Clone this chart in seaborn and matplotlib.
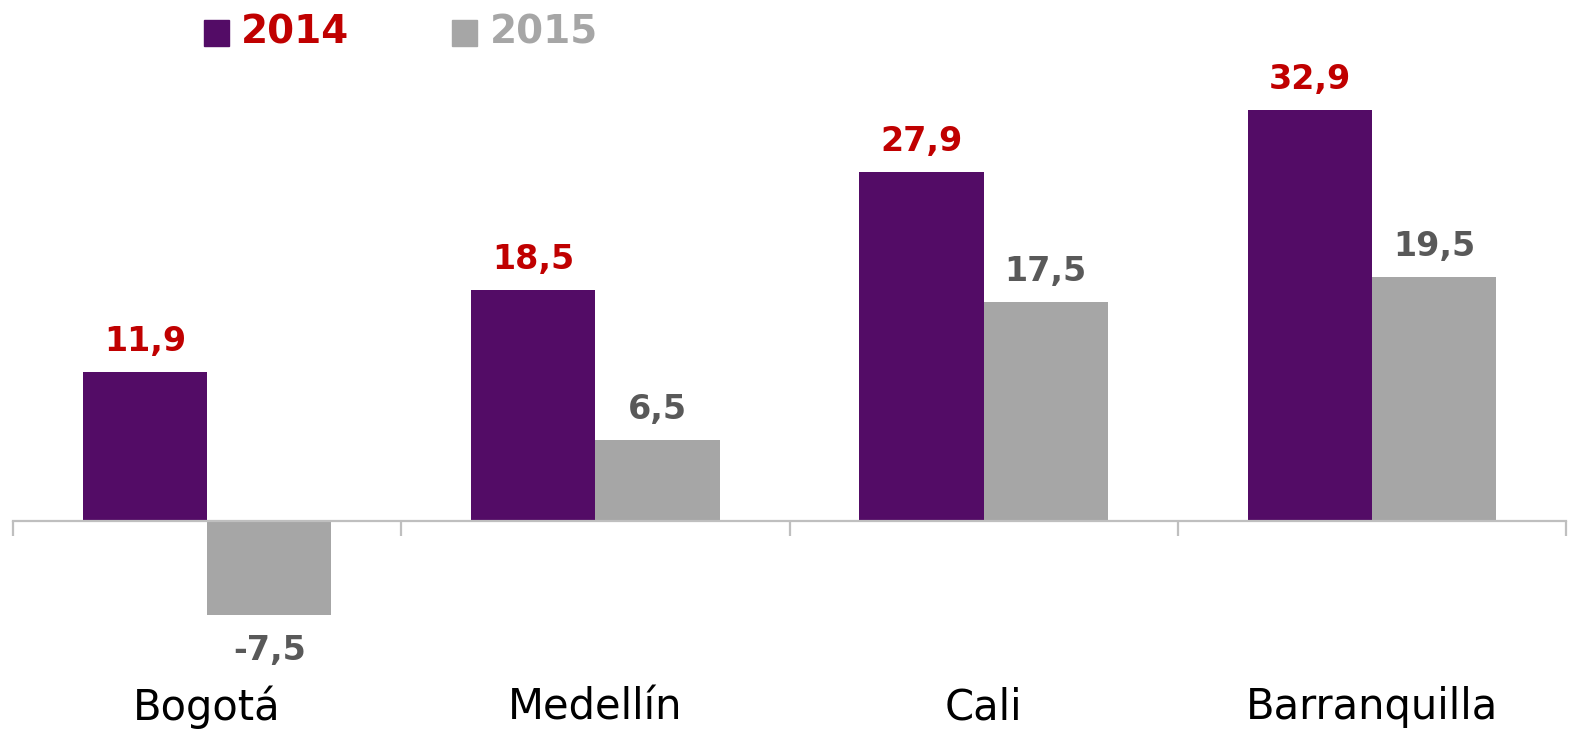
import matplotlib
matplotlib.use("Agg")
import numpy as np
import pandas as pd
import matplotlib.pyplot as plt
import seaborn as sns
from matplotlib.patches import Rectangle

# Data
cities = ['Bogotá', 'Medellín', 'Cali', 'Barranquilla']
years = ['2014', '2015']
values_2014 = [11.9, 18.5, 27.9, 32.9]
values_2015 = [-7.5, 6.5, 17.5, 19.5]

purple = '#530C66'
grey = '#A6A6A6'
red = '#C00000'
dark_grey = '#595959'

df = pd.DataFrame({
    'city': cities * 2,
    'year': [years[0]] * len(cities) + [years[1]] * len(cities),
    'value': values_2014 + values_2015,
})

sns.set_style('white')
plt.rcParams['font.family'] = ['DejaVu Sans']

fig = plt.figure(figsize=(15.74, 7.34), dpi=100)
ax = fig.add_axes([13 / 1574, 0, 1553 / 1574, 1])

sns.barplot(data=df, x='city', y='value', hue='year', order=cities, hue_order=years,
            palette=[purple, grey], width=0.64, saturation=1, legend=False,
            linewidth=0, ax=ax)

ax.set_ylim(-213 / 12.5, 521 / 12.5)
ax.set_xlim(-0.5, len(cities) - 0.5)

# zero line with boundary ticks
for side in ['top', 'left', 'right']:
    ax.spines[side].set_visible(False)
ax.spines['bottom'].set_position(('data', 0))
ax.spines['bottom'].set_color('#BFBFBF')
ax.spines['bottom'].set_linewidth(1.6)
ax.set_xticks(np.arange(len(cities) + 1) - 0.5)
ax.set_xticklabels([])
ax.tick_params(axis='x', direction='out', length=11, width=1.6, color='#BFBFBF', bottom=True)
ax.set_yticks([])
ax.set_xlabel('')
ax.set_ylabel('')

# category labels at the bottom
for i, c in enumerate(cities):
    ax.text(i, -14.9, c, ha='center', va='center', fontsize=30, color='black')

# value labels
label_colors = [red, dark_grey]
for cont, col in zip(ax.containers, label_colors):
    for bar, v in zip(cont.patches, cont.datavalues):
        x = bar.get_x() + bar.get_width() / 2
        if v >= 0:
            ax.annotate(f'{v:.1f}'.replace('.', ','), (x, v), xytext=(0, 10),
                        textcoords='offset points', ha='center', va='bottom',
                        fontsize=24, fontweight='bold', color=col)
        else:
            ax.annotate(f'{v:.1f}'.replace('.', ','), (x, v), xytext=(0, -14),
                        textcoords='offset points', ha='center', va='top',
                        fontsize=24, fontweight='bold', color=col)

# legend
fig.patches.append(Rectangle((204 / 1574, 1 - 46 / 734), 25 / 1574, 26 / 734,
                             transform=fig.transFigure, color=purple))
fig.text(241 / 1574, 1 - 33 / 734, years[0], fontsize=28, fontweight='bold', color=red, va='center')
fig.patches.append(Rectangle((452 / 1574, 1 - 46 / 734), 25 / 1574, 26 / 734,
                             transform=fig.transFigure, color=grey))
fig.text(490 / 1574, 1 - 33 / 734, years[1], fontsize=28, fontweight='bold', color=grey, va='center')

fig.savefig('out.png', dpi=100)
